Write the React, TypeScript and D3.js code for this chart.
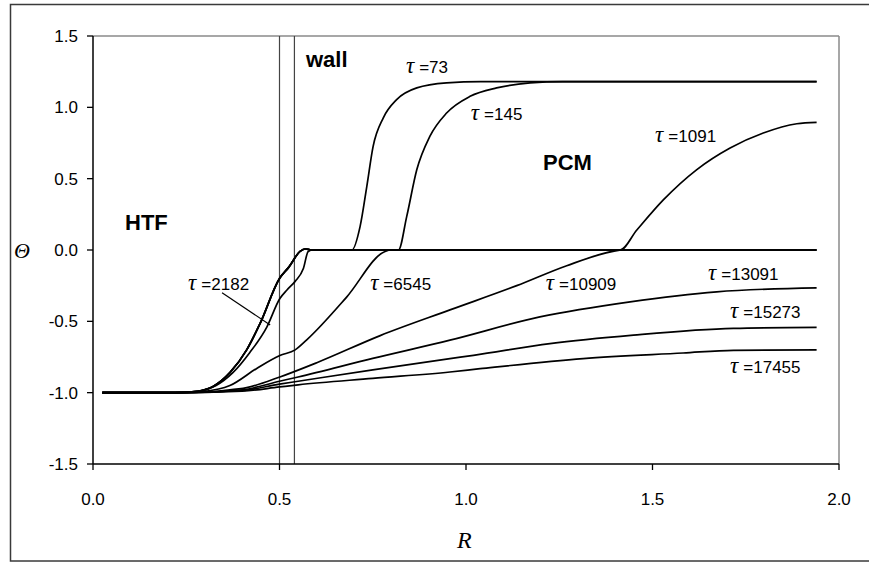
import React from "react";
import * as d3 from "d3";

// ---- data ----
const xTicks = [0, 0.5, 1.0, 1.5, 2.0];
const yTicks = [-1.5, -1.0, -0.5, 0.0, 0.5, 1.0, 1.5];
const wallR = [0.5, 0.54];

const leftThick: [number, number][] = [
  [0.025, -1], [0.22, -1], [0.28, -0.99], [0.323, -0.955], [0.367, -0.86], [0.412, -0.7],
  [0.448, -0.515], [0.5, -0.2], [0.525, -0.12], [0.555, -0.01], [0.57, 0.008], [0.585, 0],
];
const tau73: [number, number][] = [
  ...leftThick, [0.65, 0], [0.694, 0], [0.716, 0.164], [0.734, 0.445], [0.751, 0.726],
  [0.778, 0.925], [0.814, 1.054], [0.868, 1.136], [0.948, 1.171], [1.04, 1.18], [1.94, 1.18],
];
const tau145: [number, number][] = [
  ...leftThick, [0.7, 0], [0.819, 0], [0.841, 0.234], [0.868, 0.562], [0.903, 0.796],
  [0.948, 0.96], [1.011, 1.077], [1.082, 1.136], [1.172, 1.171], [1.26, 1.18], [1.94, 1.18],
];
const tau1091: [number, number][] = [
  ...leftThick, [1.0, 0], [1.413, 0], [1.458, 0.14], [1.529, 0.351], [1.618, 0.562],
  [1.708, 0.715], [1.797, 0.82], [1.887, 0.885], [1.94, 0.895],
];
const tau2182: [number, number][] = [
  [0.025, -1], [0.22, -1], [0.28, -0.99], [0.33, -0.95], [0.375, -0.86], [0.42, -0.72],
  [0.466, -0.54], [0.501, -0.34], [0.52, -0.28], [0.542, -0.22], [0.564, -0.13],
  [0.577, -0.01], [0.59, 0], [1.94, 0],
];
const tau6545: [number, number][] = [
  [0.025, -1], [0.22, -1], [0.3, -0.99], [0.367, -0.95], [0.439, -0.83], [0.501, -0.74],
  [0.542, -0.7], [0.573, -0.63], [0.68, -0.33], [0.783, -0.01], [0.8, 0], [1.94, 0],
];
const tau10909: [number, number][] = [
  [0.025, -1], [0.25, -1], [0.35, -0.985], [0.412, -0.965], [0.501, -0.89], [0.6, -0.79],
  [0.77, -0.6], [0.957, -0.42], [1.136, -0.25], [1.27, -0.11], [1.394, -0.01], [1.42, 0], [1.94, 0],
];
const tau13091: [number, number][] = [
  [0.025, -1], [0.25, -1], [0.4, -0.98], [0.5, -0.92], [0.55, -0.89], [0.75, -0.76],
  [0.957, -0.632], [1.198, -0.469], [1.44, -0.363], [1.672, -0.293], [1.94, -0.265],
];
const tau15273: [number, number][] = [
  [0.025, -1], [0.25, -1], [0.4, -0.985], [0.5, -0.94], [0.55, -0.92], [0.75, -0.84],
  [0.957, -0.761], [1.02, -0.738], [1.225, -0.656], [1.449, -0.597], [1.717, -0.55], [1.94, -0.543],
];
const tau17455: [number, number][] = [
  [0.025, -1], [0.25, -1], [0.4, -0.99], [0.5, -0.96], [0.55, -0.945], [0.75, -0.9],
  [0.957, -0.855], [1.038, -0.832], [1.314, -0.761], [1.582, -0.722], [1.717, -0.703], [1.94, -0.7],
];
const seriesList = [tau73, tau145, tau1091, tau2182, tau6545, tau10909, tau13091, tau15273, tau17455];

const tauNames = ["73", "145", "1091", "2182", "6545", "10909", "13091", "15273", "17455"];
// label anchors (data coords: R, Θ)
const tauLabelR = [0.839, 1.013, 1.507, 0.255, 0.743, 1.214, 1.649, 1.708, 1.708];
const tauLabelT = [1.24, 0.911, 0.757, -0.28, -0.28, -0.28, -0.21, -0.477, -0.862];

export default function App() {
  const W = 869, H = 563;
  const x = d3.scaleLinear().domain([0, 2]).range([93, 839]);
  const y = d3.scaleLinear().domain([-1.5, 1.5]).range([464, 36]);
  const line = d3
    .line<[number, number]>()
    .x((d) => x(d[0]))
    .y((d) => y(d[1]))
    .curve(d3.curveMonotoneX);
  const sans = "'Liberation Sans', Arial, sans-serif";
  const serif = "'Liberation Serif', 'Times New Roman', serif";
  return (
    <svg width={W} height={H} style={{ position: "absolute", left: 0, top: 0, background: "#fff" }}>
      <rect x={10.5} y={4.5} width={880} height={556.5} fill="#fff" stroke="#3a3a3a" strokeWidth={1.5} />
      {/* plot border */}
      <line x1={x(0)} x2={x(2)} y1={y(1.5)} y2={y(1.5)} stroke="#8a8a8a" strokeWidth={1.5} />
      <line x1={x(2)} x2={x(2)} y1={y(1.5)} y2={y(-1.5)} stroke="#8a8a8a" strokeWidth={1.5} />
      {/* wall */}
      {wallR.map((r, i) => (
        <line key={i} x1={x(r)} x2={x(r)} y1={y(1.5)} y2={y(-1.5)} stroke="#444" strokeWidth={1.2} />
      ))}
      {/* axes */}
      <line x1={x(0)} x2={x(0)} y1={y(1.5)} y2={y(-1.5)} stroke="#000" strokeWidth={1.5} />
      <line x1={x(0)} x2={x(2)} y1={y(-1.5)} y2={y(-1.5)} stroke="#000" strokeWidth={1.5} />
      {yTicks.map((t) => (
        <g key={"y" + t}>
          <line x1={x(0) - 6} x2={x(0)} y1={y(t)} y2={y(t)} stroke="#000" strokeWidth={1.3} />
          <text x={x(0) - 15} y={y(t) + 6} textAnchor="end" fontFamily={sans} fontSize={17} fill="#000">
            {t.toFixed(1)}
          </text>
        </g>
      ))}
      {xTicks.map((t) => (
        <g key={"x" + t}>
          <line x1={x(t)} x2={x(t)} y1={y(-1.5)} y2={y(-1.5) + 6} stroke="#000" strokeWidth={1.3} />
          <text x={x(t)} y={505} textAnchor="middle" fontFamily={sans} fontSize={17} fill="#000">
            {t.toFixed(1)}
          </text>
        </g>
      ))}
      {/* curves */}
      {seriesList.map((s, i) => (
        <path key={i} d={line(s) || ""} fill="none" stroke="#000" strokeWidth={1.7} strokeLinejoin="round" />
      ))}
      {/* leader line for 2182 */}
      <line x1={x(0.346)} y1={y(-0.3)} x2={x(0.475)} y2={y(-0.525)} stroke="#000" strokeWidth={1.2} />
      {/* tau labels */}
      {tauNames.map((n, i) => (
        <text key={n} x={x(tauLabelR[i])} y={y(tauLabelT[i])} fontSize={17} fontFamily={sans} fill="#000">
          <tspan fontFamily={serif} fontStyle="italic" fontSize={23}>τ</tspan>
          <tspan dx={5}>{"=" + n}</tspan>
        </text>
      ))}
      {/* region labels */}
      <text x={306} y={67} fontFamily={sans} fontWeight="bold" fontSize={22}>wall</text>
      <text x={125} y={230} fontFamily={sans} fontWeight="bold" fontSize={22}>HTF</text>
      <text x={543} y={170} fontFamily={sans} fontWeight="bold" fontSize={22}>PCM</text>
      {/* axis titles */}
      <text x={14} y={258} fontFamily={serif} fontStyle="italic" fontSize={22}>Θ</text>
      <text x={457} y={548} fontFamily={serif} fontStyle="italic" fontSize={24}>R</text>
    </svg>
  );
}
